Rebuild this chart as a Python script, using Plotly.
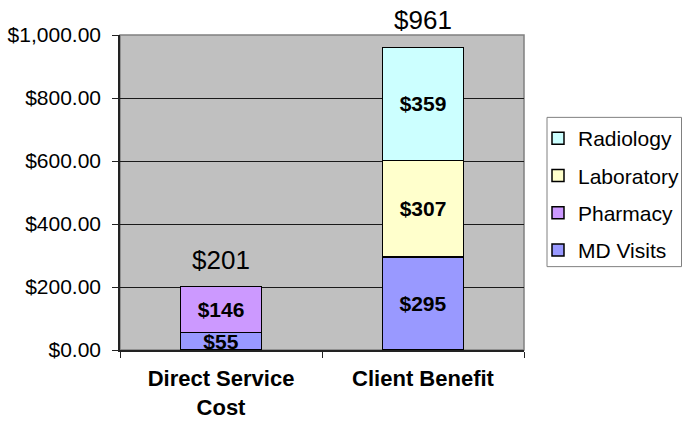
import plotly.graph_objects as go

categories = ["Direct Service<br>Cost", "Client Benefit"]
series_names = ["MD Visits", "Pharmacy", "Laboratory", "Radiology"]
md_visits = [55, 295]
pharmacy = [146, None]
laboratory = [None, 307]
radiology = [None, 359]
colors = ["#9999FF", "#CC99FF", "#FFFFCC", "#CCFFFF"]
legend_ranks = [4, 3, 2, 1]
tick_vals = [0, 200, 400, 600, 800, 1000]

series = [md_visits, pharmacy, laboratory, radiology]
totals = [sum(v for v in col if v) for col in zip(*series)]

FONT = "Liberation Sans, Arial, sans-serif"

fig = go.Figure()
for name, vals, col, rk in zip(series_names, series, colors, legend_ranks):
    fig.add_trace(go.Bar(
        name=name, x=categories, y=vals,
        marker=dict(color=col, line=dict(color="black", width=1.5)),
        text=[f"${v}" if v else "" for v in vals],
        textposition="inside", insidetextanchor="middle",
        constraintext="none",
        textfont=dict(family=FONT, size=21, color="black", weight="bold"),
        legendgroup=name, legendrank=rk, hoverinfo="skip",
    ))

for c, t in zip(categories, totals):
    fig.add_annotation(x=c, y=t, text=f"${t}", showarrow=False,
                       yanchor="middle", yshift=27,
                       font=dict(family=FONT, size=26, color="black"))

fig.update_layout(
    width=682, height=421,
    barmode="stack", bargap=0.6,
    plot_bgcolor="#C0C0C0", paper_bgcolor="white",
    margin=dict(l=120, r=158, t=35, b=71, autoexpand=False),
    font=dict(family=FONT, color="black"),
    legend=dict(xref="container", yref="container",
                x=538 / 682, y=1 - 118 / 421, xanchor="left", yanchor="top",
                traceorder="grouped", tracegroupgap=7,
                borderwidth=0, bgcolor="rgba(0,0,0,0)",
                font=dict(family=FONT, size=21, color="black"),
                itemclick=False),
    showlegend=True,
)
fig.update_yaxes(range=[0, 1000], tickvals=tick_vals, tickformat="$,.2f",
                 showgrid=True, gridcolor="#1a1a1a", gridwidth=1,
                 showline=True, linecolor="#222222", linewidth=1.5,
                 ticks="outside", ticklen=6, tickcolor="#222222",
                 ticklabelstandoff=7, automargin=False,
                 tickfont=dict(family=FONT, size=21, color="black"),
                 zeroline=False)
fig.update_xaxes(showline=True, linecolor="#222222", linewidth=1.5,
                 ticks="outside", tickson="boundaries", ticklen=6, tickcolor="#222222",
                 ticklabelstandoff=8, automargin=False,
                 tickfont=dict(family=FONT, size=22, color="black", weight="bold"))
fig.add_shape(type="rect", xref="paper", yref="paper", x0=0, y0=0, x1=1, y1=1,
              line=dict(color="#808080", width=1.5), layer="below")
# legend frame
fig.add_shape(type="rect", xref="paper", yref="paper",
              x0=(547 - 120) / 404, x1=(681.5 - 120) / 404,
              y0=(350 - 266.5) / 315.5, y1=(350 - 117) / 315.5,
              line=dict(color="#808080", width=1), fillcolor="rgba(0,0,0,0)")

fig.write_html("out.html", config={"displayModeBar": False},
               post_script="document.body.style.margin='0';")
